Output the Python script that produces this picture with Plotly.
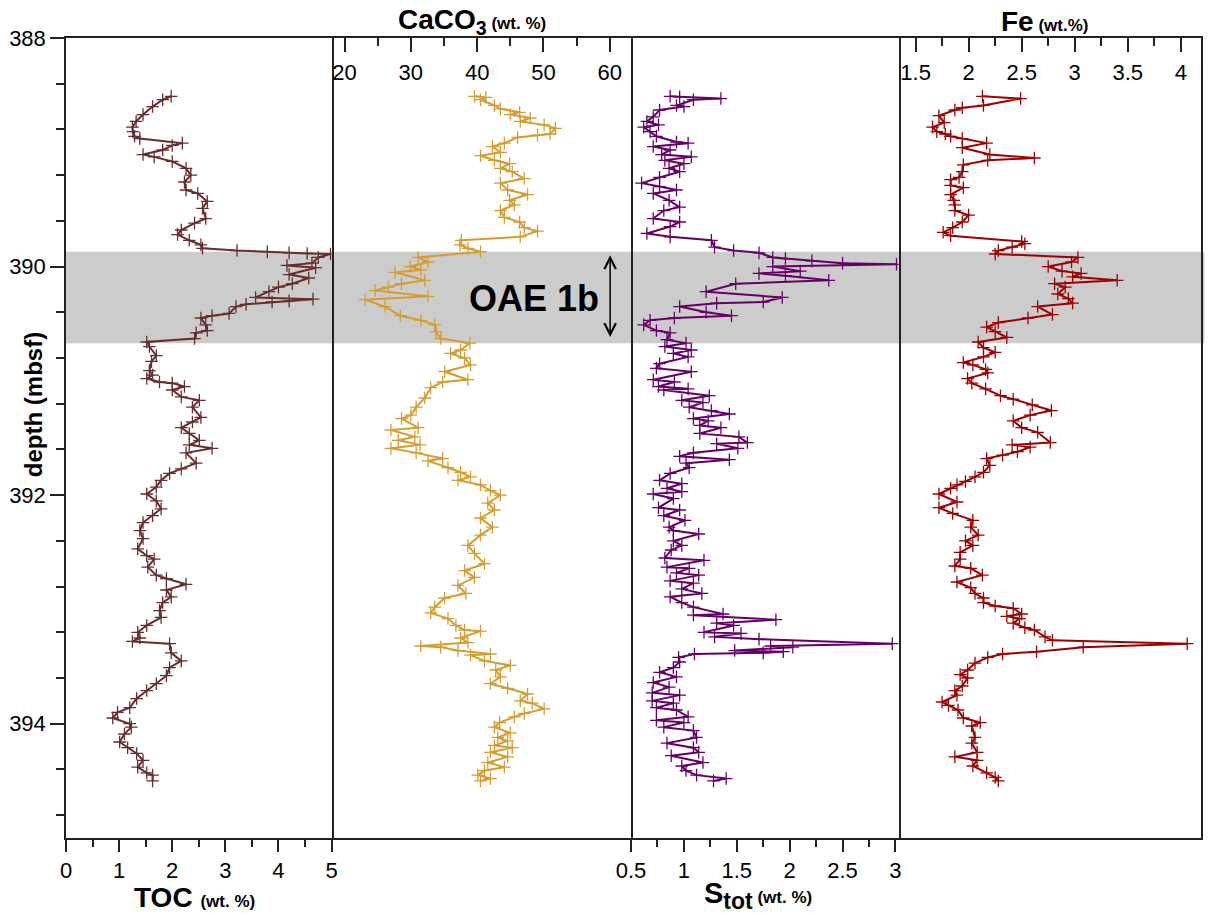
import plotly.graph_objects as go

# ---------------- data ----------------
toc_depth = [388.51, 388.54, 388.60, 388.67, 388.73, 388.78, 388.82, 388.86, 388.88, 388.92, 388.94, 388.98,
             389.02, 389.04, 389.08, 389.14, 389.20, 389.26, 389.33, 389.36, 389.43, 389.49, 389.58, 389.62,
             389.68, 389.72, 389.77, 389.81, 389.84, 389.86, 389.87, 389.88, 389.885, 389.89, 389.92, 389.97,
             389.99, 390.01, 390.07, 390.10, 390.15, 390.18, 390.22, 390.27, 390.285, 390.30, 390.31, 390.33,
             390.35, 390.41, 390.43, 390.45, 390.51, 390.56, 390.58, 390.63, 390.66, 390.70, 390.78, 390.83,
             390.91, 390.95, 390.98, 391.01, 391.02, 391.05, 391.08, 391.14, 391.17, 391.23, 391.32, 391.36,
             391.41, 391.46, 391.52, 391.56, 391.59, 391.63, 391.72, 391.77, 391.81, 391.87, 391.93, 391.99,
             392.05, 392.12, 392.18, 392.24, 392.31, 392.38, 392.47, 392.53, 392.56, 392.63, 392.70, 392.73,
             392.78, 392.83, 392.89, 392.94, 393.01, 393.07, 393.14, 393.20, 393.25, 393.28, 393.30, 393.38,
             393.45, 393.51, 393.58, 393.65, 393.71, 393.78, 393.86, 393.90, 393.95, 394.00, 394.03, 394.09,
             394.16, 394.21, 394.26, 394.32, 394.38, 394.43, 394.45, 394.50]
toc_val = [1.98, 1.82, 1.63, 1.45, 1.32, 1.25, 1.26, 1.29, 1.39, 2.19, 2.00, 1.82,
           1.45, 1.66, 2.00, 2.26, 2.35, 2.23, 2.26, 2.48, 2.66, 2.57, 2.63, 2.42,
           2.17, 2.10, 2.32, 2.54, 2.57, 3.22, 3.79, 4.20, 4.54, 4.98, 4.75, 4.63,
           4.16, 4.70, 4.20, 4.57, 4.26, 4.00, 3.82, 3.57, 4.65, 4.20, 3.88, 3.39,
           3.20, 3.07, 2.75, 2.54, 2.63, 2.66, 2.45, 2.42, 1.52, 1.57, 1.70, 1.61,
           1.57, 1.63, 1.52, 1.76, 2.00, 2.23, 2.00, 2.17, 2.51, 2.38, 2.54, 2.38,
           2.17, 2.32, 2.51, 2.32, 2.75, 2.26, 2.45, 2.17, 1.95, 1.79, 1.70, 1.52,
           1.70, 1.79, 1.63, 1.45, 1.39, 1.45, 1.35, 1.52, 1.66, 1.54, 1.70, 1.89,
           2.26, 1.89, 1.98, 1.82, 1.76, 1.79, 1.52, 1.35, 1.39, 1.25, 1.95, 1.98,
           2.17, 1.95, 1.89, 1.70, 1.52, 1.33, 1.20, 0.97, 0.88, 1.20, 1.23, 1.10,
           1.01, 1.16, 1.33, 1.45, 1.35, 1.52, 1.63, 1.63]

caco3_depth = [388.51, 388.52, 388.54, 388.59, 388.62, 388.65, 388.67, 388.70, 388.73, 388.76, 388.79, 388.84,
               388.85, 388.87, 388.92, 388.95, 389.00, 389.03, 389.07, 389.10, 389.14, 389.17, 389.23, 389.27,
               389.33, 389.37, 389.42, 389.46, 389.51, 389.57, 389.61, 389.66, 389.69, 389.74, 389.77, 389.81,
               389.84, 389.87, 389.92, 389.96, 390.00, 390.03, 390.05, 390.12, 390.15, 390.18, 390.21, 390.26,
               390.29, 390.35, 390.43, 390.47, 390.51, 390.57, 390.63, 390.67, 390.73, 390.76, 390.80, 390.86,
               390.92, 390.99, 391.01, 391.06, 391.15, 391.23, 391.30, 391.33, 391.41, 391.43, 391.49, 391.52,
               391.56, 391.59, 391.63, 391.68, 391.70, 391.76, 391.80, 391.84, 391.87, 391.91, 391.96, 392.00,
               392.07, 392.13, 392.20, 392.28, 392.35, 392.44, 392.51, 392.60, 392.66, 392.72, 392.79, 392.86,
               392.90, 392.98, 393.03, 393.08, 393.14, 393.18, 393.19, 393.25, 393.29, 393.32, 393.33, 393.36,
               393.39, 393.40, 393.45, 393.49, 393.53, 393.59, 393.65, 393.69, 393.74, 393.80, 393.82, 393.87,
               393.91, 393.94, 393.99, 394.03, 394.08, 394.12, 394.15, 394.19, 394.21, 394.25, 394.29, 394.34,
               394.38, 394.41, 394.45, 394.48, 394.50]
caco3_val = [39.6, 41.3, 40.5, 42.6, 43.5, 46.4, 45.0, 48.0, 46.5, 50.1, 51.8, 51.0,
             49.1, 46.1, 44.1, 42.3, 43.5, 40.5, 42.6, 44.9, 43.5, 45.3, 47.1, 43.5,
             44.6, 47.6, 44.9, 45.6, 43.5, 44.1, 46.4, 47.1, 49.1, 46.5, 37.6, 37.4,
             38.6, 40.5, 31.1, 32.6, 29.9, 31.5, 27.6, 32.1, 28.6, 26.6, 24.6, 32.6,
             23.1, 26.1, 28.4, 31.5, 33.6, 33.8, 34.5, 38.9, 37.5, 36.0, 38.1, 39.0,
             35.1, 38.6, 34.8, 33.0, 32.1, 30.8, 30.0, 28.6, 31.1, 27.0, 30.6, 28.1,
             31.4, 27.0, 30.8, 34.8, 32.6, 35.6, 37.5, 39.0, 37.1, 40.5, 42.0, 43.5,
             41.6, 42.6, 40.5, 42.3, 40.5, 38.6, 39.6, 41.1, 38.1, 39.6, 37.1, 38.3,
             35.1, 33.6, 33.0, 35.6, 36.8, 38.1, 40.5, 37.5, 38.6, 31.5, 34.5, 37.1,
             42.0, 39.0, 41.1, 45.0, 42.8, 43.5, 42.0, 44.6, 47.6, 46.5, 48.3, 50.1,
             47.1, 45.6, 43.4, 42.6, 45.0, 43.1, 44.6, 42.6, 45.3, 42.0, 44.6, 41.6,
             44.1, 41.1, 40.1, 42.0, 40.5]

stot_depth = [388.51, 388.515, 388.53, 388.54, 388.59, 388.60, 388.63, 388.69, 388.73, 388.76, 388.78, 388.82,
              388.86, 388.91, 388.92, 388.95, 388.98, 389.02, 389.04, 389.07, 389.10, 389.14, 389.17, 389.22,
              389.27, 389.30, 389.33, 389.36, 389.42, 389.48, 389.51, 389.58, 389.61, 389.65, 389.71, 389.74,
              389.77, 389.83, 389.86, 389.88, 389.92, 389.93, 389.95, 389.97, 389.98, 390.00, 390.04, 390.06,
              390.08, 390.12, 390.15, 390.22, 390.27, 390.31, 390.32, 390.35, 390.40, 390.43, 390.45, 390.47,
              390.51, 390.56, 390.58, 390.64, 390.67, 390.70, 390.73, 390.76, 390.79, 390.85, 390.89, 390.92,
              390.99, 391.01, 391.05, 391.07, 391.08, 391.13, 391.17, 391.19, 391.23, 391.26, 391.29, 391.33,
              391.35, 391.39, 391.41, 391.46, 391.49, 391.54, 391.55, 391.59, 391.63, 391.66, 391.69, 391.72,
              391.76, 391.81, 391.87, 391.90, 391.94, 391.97, 391.99, 392.03, 392.11, 392.13, 392.18, 392.22,
              392.28, 392.31, 392.34, 392.40, 392.44, 392.48, 392.55, 392.57, 392.63, 392.64, 392.68, 392.70,
              392.75, 392.77, 392.82, 392.86, 392.89, 392.94, 392.98, 393.04, 393.05, 393.09, 393.12, 393.14,
              393.20, 393.21, 393.24, 393.26, 393.30, 393.32, 393.33, 393.36, 393.37, 393.38, 393.39, 393.42,
              393.46, 393.51, 393.55, 393.59, 393.64, 393.68, 393.73, 393.75, 393.80, 393.82, 393.86, 393.88,
              393.94, 393.97, 393.99, 394.03, 394.06, 394.12, 394.17, 394.21, 394.25, 394.28, 394.34, 394.37,
              394.41, 394.45, 394.48, 394.50]
stot_val = [0.87, 0.96, 1.35, 1.09, 0.93, 1.00, 0.77, 0.71, 0.65, 0.76, 0.62, 0.68,
            0.74, 0.93, 1.04, 0.71, 0.87, 0.79, 1.07, 0.82, 1.00, 0.86, 0.96, 0.77,
            0.60, 0.77, 0.93, 0.71, 0.86, 0.96, 0.81, 0.71, 0.96, 0.87, 0.65, 0.87,
            1.26, 1.29, 1.47, 1.71, 1.84, 1.96, 2.21, 2.50, 3.01, 1.84, 2.10, 1.71,
            1.96, 2.37, 1.49, 1.21, 1.93, 1.75, 1.31, 0.96, 1.21, 1.45, 0.91, 0.68,
            0.62, 0.74, 0.87, 0.84, 1.02, 0.82, 1.07, 0.90, 1.04, 0.77, 0.74, 1.07,
            0.71, 0.91, 0.76, 1.04, 0.81, 1.24, 0.98, 1.18, 1.05, 1.26, 1.43, 1.09,
            1.23, 1.15, 1.35, 1.15, 1.52, 1.60, 1.31, 1.51, 1.09, 0.96, 1.43, 1.02,
            1.05, 0.87, 0.77, 0.98, 0.84, 0.98, 0.71, 0.90, 0.76, 0.96, 0.81, 1.01,
            0.86, 0.90, 1.14, 0.90, 0.98, 0.88, 0.82, 1.19, 0.84, 1.05, 0.93, 1.14,
            0.87, 1.09, 0.98, 1.17, 0.87, 0.98, 1.09, 1.37, 1.09, 1.87, 1.31, 1.47,
            1.19, 1.54, 1.29, 1.71, 2.97, 1.82, 2.03, 1.48, 1.94, 1.75, 1.10, 0.95,
            0.96, 0.90, 0.77, 0.93, 0.71, 0.86, 0.70, 0.96, 0.70, 0.90, 0.74, 0.93,
            1.04, 0.74, 1.00, 0.81, 1.09, 1.12, 0.84, 1.09, 1.14, 0.88, 1.18, 0.98,
            1.02, 1.12, 1.40, 1.28]

fe_depth = [388.51, 388.53, 388.59, 388.61, 388.63, 388.68, 388.74, 388.78, 388.82, 388.84, 388.86, 388.88,
            388.92, 388.96, 389.02, 389.05, 389.07, 389.11, 389.17, 389.22, 389.24, 389.29, 389.31, 389.37,
            389.42, 389.46, 389.51, 389.55, 389.61, 389.66, 389.70, 389.73, 389.78, 389.80, 389.83, 389.86,
            389.89, 389.92, 389.96, 390.00, 390.04, 390.06, 390.09, 390.12, 390.15, 390.18, 390.24, 390.28,
            390.32, 390.35, 390.42, 390.45, 390.49, 390.53, 390.57, 390.62, 390.66, 390.71, 390.75, 390.79,
            390.84, 390.86, 390.90, 390.93, 390.98, 391.02, 391.07, 391.13, 391.16, 391.21, 391.26, 391.30,
            391.35, 391.41, 391.45, 391.54, 391.56, 391.58, 391.62, 391.65, 391.68, 391.74, 391.80, 391.84,
            391.88, 391.91, 391.94, 391.99, 392.06, 392.11, 392.16, 392.22, 392.28, 392.35, 392.40, 392.44,
            392.50, 392.56, 392.62, 392.64, 392.70, 392.76, 392.81, 392.86, 392.90, 392.94, 392.97, 392.99,
            393.04, 393.06, 393.08, 393.12, 393.16, 393.18, 393.24, 393.27, 393.30, 393.33, 393.37, 393.39,
            393.42, 393.47, 393.53, 393.57, 393.60, 393.67, 393.71, 393.75, 393.81, 393.84, 393.88, 393.95,
            393.99, 394.02, 394.12, 394.17, 394.25, 394.29, 394.32, 394.37, 394.43, 394.47, 394.50]
fe_val = [2.13, 2.49, 2.14, 1.94, 1.87, 1.72, 1.77, 1.66, 1.70, 1.78, 1.83, 1.94,
          2.17, 1.94, 2.20, 2.62, 2.18, 1.95, 1.94, 1.91, 1.83, 1.83, 1.95, 1.83,
          1.86, 1.87, 1.87, 2.00, 1.94, 1.85, 1.76, 1.83, 2.50, 2.53, 2.41, 2.28,
          2.25, 3.03, 2.97, 2.75, 2.88, 3.06, 2.98, 3.40, 2.81, 2.91, 2.84, 2.94,
          2.98, 2.65, 2.79, 2.56, 2.28, 2.17, 2.25, 2.36, 2.09, 2.14, 2.25, 2.14,
          1.95, 2.04, 2.16, 2.18, 1.99, 2.03, 2.16, 2.30, 2.42, 2.60, 2.78, 2.58,
          2.42, 2.50, 2.65, 2.77, 2.41, 2.58, 2.46, 2.32, 2.17, 2.20, 2.14, 2.06,
          1.97, 1.89, 1.83, 1.72, 1.89, 1.72, 1.85, 2.04, 2.02, 2.09, 1.97, 2.04,
          1.92, 1.92, 1.87, 2.02, 2.13, 1.89, 2.02, 2.06, 2.14, 2.14, 2.25, 2.42,
          2.50, 2.36, 2.48, 2.42, 2.53, 2.62, 2.72, 2.79, 4.06, 3.08, 2.64, 2.32,
          2.18, 2.06, 1.99, 1.92, 1.99, 1.94, 1.87, 1.89, 1.75, 1.81, 1.90, 1.95,
          2.11, 2.03, 2.06, 2.03, 2.08, 1.87, 2.08, 2.04, 2.17, 2.25, 2.28]

oae_top, oae_bottom = 389.87, 390.67

# ---------------- geometry helpers (pixels -> paper) ----------------
W, H = 1210, 915
L, R, T, B = 66, 1207, 38, 838


def px(xp):
    return (xp - L) / (R - L)


def py(yp):
    return (B - yp) / (B - T)


FONT = "Liberation Sans, Arial, sans-serif"
AX = "#222222"

edges = [66, 333, 634, 903, 1207]
doms = [[px(edges[i]), px(edges[i + 1])] for i in range(4)]
doms[-1][1] = 1.0
doms[0][0] = 0.0

fig = go.Figure()


def add(xv, yv, color, i):
    xa = "x" if i == 1 else f"x{i}"
    ya = "y" if i == 1 else f"y{i}"
    fig.add_trace(go.Scatter(
        x=xv, y=yv, xaxis=xa, yaxis=ya, mode="lines+markers",
        line=dict(color=color, width=2),
        marker=dict(symbol="cross-thin", size=9, line=dict(color=color, width=1.3)),
        showlegend=False, hoverinfo="x+y"))


add(toc_val, toc_depth, "#662e2e", 1)
add(caco3_val, caco3_depth, "#d49d33", 2)
add(stot_val, stot_depth, "#650066", 3)
add(fe_val, fe_depth, "#9c0000", 4)

tickfont = dict(family=FONT, size=22, color="black")

common_x = dict(showgrid=False, zeroline=False, showline=True, linecolor=AX, linewidth=1.5,
                mirror=True, tickfont=tickfont, tickcolor=AX, tickwidth=1.5)

fig.update_layout(
    width=W, height=H,
    margin=dict(l=L, r=W - R, t=T, b=H - B, pad=0),
    paper_bgcolor="white", plot_bgcolor="white",
    font=dict(family=FONT, color="black"),
    xaxis=dict(domain=doms[0], anchor="y", side="bottom", range=[0, 5],
               tick0=0, dtick=1, ticks="outside", ticklen=12,
               minor=dict(dtick=0.5, ticks="outside", ticklen=7, tickcolor=AX, tickwidth=1.5),
               **common_x),
    xaxis2=dict(domain=doms[1], anchor="y2", side="top", range=[18.05, 63.2],
                tick0=0, dtick=10, ticks="inside", ticklen=14, ticklabelposition="inside",
                ticklabelstandoff=14,
                minor=dict(dtick=5, ticks="inside", ticklen=8, tickcolor=AX, tickwidth=1.5),
                **common_x),
    xaxis3=dict(domain=doms[2], anchor="y3", side="bottom", range=[0.5, 3.03],
                tick0=0.5, dtick=0.5, ticks="outside", ticklen=12,
                minor=dict(dtick=0.25, ticks="outside", ticklen=7, tickcolor=AX, tickwidth=1.5),
                **common_x),
    xaxis4=dict(domain=doms[3], anchor="y4", side="top", range=[1.34, 4.19],
                tick0=0.5, dtick=0.5, ticks="inside", ticklen=14, ticklabelposition="inside",
                ticklabelstandoff=14,
                minor=dict(dtick=0.25, ticks="inside", ticklen=8, tickcolor=AX, tickwidth=1.5),
                **common_x),
    yaxis=dict(anchor="x", range=[395, 388], tick0=388, dtick=2, ticks="outside", ticklen=14,
               minor=dict(dtick=0.4, tick0=388, ticks="outside", ticklen=8, tickcolor=AX, tickwidth=1.5),
               showgrid=False, zeroline=False, showline=True, linecolor=AX, linewidth=1.5, mirror=True,
               tickfont=tickfont, tickcolor=AX, tickwidth=1.5),
)
for k in (2, 3, 4):
    fig.update_layout(**{f"yaxis{k}": dict(anchor=f"x{k}", matches="y", range=[395, 388], side="right",
                                           showticklabels=False, ticks="", showgrid=False, zeroline=False,
                                           showline=True, linecolor=AX, linewidth=1.5, mirror=False)})

# OAE 1b band
fig.add_shape(type="rect", xref="paper", yref="y", x0=0, x1=1.003, y0=oae_top, y1=oae_bottom,
              fillcolor="#cccccc", line=dict(width=0), layer="below")

ann = []
ann.append(dict(xref="paper", yref="paper", x=px(33), y=py(405), text="<b>depth (mbsf)</b>",
                textangle=-90, showarrow=False, font=dict(family=FONT, size=24, color="black"),
                xanchor="center", yanchor="middle"))
ann.append(dict(xref="paper", yref="paper", x=px(195), y=py(897),
                text="<b>TOC</b> <b><span style='font-size:17px'>(wt. %)</span></b>",
                showarrow=False, font=dict(family=FONT, size=28, color="black"),
                xanchor="center", yanchor="middle"))
ann.append(dict(xref="paper", yref="paper", x=px(474), y=py(22),
                text="<b>CaCO<sub>3</sub></b><b><span style='font-size:17px'> (wt. %)</span></b>",
                showarrow=False, font=dict(family=FONT, size=28, color="black"),
                xanchor="center", yanchor="middle"))
ann.append(dict(xref="paper", yref="paper", x=px(762), y=py(895),
                text="<b>S<sub><span style='font-size:23px'>tot</span></sub></b>"
                     "<b><span style='font-size:17px'> (wt. %)</span></b>",
                showarrow=False, font=dict(family=FONT, size=29, color="black"),
                xanchor="center", yanchor="middle"))
ann.append(dict(xref="paper", yref="paper", x=px(1050), y=py(22),
                text="<b>Fe</b><b><span style='font-size:17px'> (wt.%)</span></b>",
                showarrow=False, font=dict(family=FONT, size=28, color="black"),
                xanchor="center", yanchor="middle"))
ann.append(dict(xref="x2", yref="y2", x=48.5, y=390.28, text="<b>OAE 1b</b>", showarrow=False,
                font=dict(family=FONT, size=36, color="black"), xanchor="center", yanchor="middle"))
ann.append(dict(xref="x2", yref="y2", x=60.05, y=389.90, axref="x2", ayref="y2", ax=60.05, ay=390.63,
                text="", showarrow=True, arrowhead=5, startarrowhead=5, arrowside="end+start",
                arrowwidth=1.5, arrowsize=1.5, startarrowsize=1.5, arrowcolor="black"))
fig.update_layout(annotations=ann)

fig.write_html("out.html")
